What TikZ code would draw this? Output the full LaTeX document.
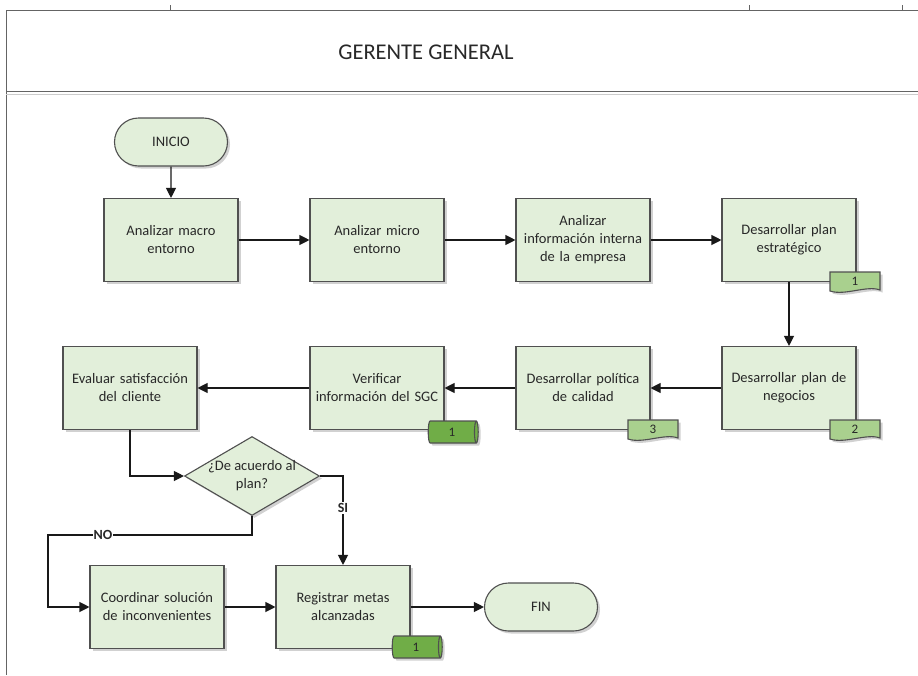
\documentclass[tikz,border=0pt]{standalone}
\usepackage{fontspec}
\setmainfont{Carlito}
\usetikzlibrary{arrows.meta,shapes.geometric,shapes.misc,shadows,calc}

\definecolor{boxfill}{RGB}{226,239,218}
\definecolor{boxline}{RGB}{80,80,80}
\definecolor{tagfill}{RGB}{169,208,142}
\definecolor{cylfill}{RGB}{112,173,71}
\definecolor{framegray}{RGB}{100,100,100}
\definecolor{ink}{RGB}{40,40,40}

\tikzset{
  x=1pt, y=-1pt,
  soft shadow/.style={drop shadow={shadow xshift=2.5pt, shadow yshift=-2.5pt, opacity=0.3, fill=black!60}},
  txt/.style={font=\fontsize{14.5}{18}\selectfont, text=ink},
  proc/.style={txt, draw=boxline, line width=1.1pt, fill=boxfill, minimum width=134pt,
    minimum height=83pt, align=center, text width=130pt, inner sep=0pt, soft shadow},
  term/.style={txt, rounded rectangle, draw=boxline, line width=1.1pt, fill=boxfill,
    minimum width=113pt, minimum height=48pt, inner sep=0pt, soft shadow},
  dec/.style={diamond, draw=boxline, line width=1.1pt, fill=boxfill,
    minimum width=135pt, minimum height=79pt, inner sep=0pt, soft shadow},
  flow/.style={draw=black!90, line width=1.1pt, -{Triangle[length=10pt,width=10pt]}},
  edgelbl/.style={font=\fontsize{14}{16}\bfseries\selectfont, text=ink, fill=white, inner sep=1pt},
  store/.style={cylinder, shape border rotate=0, aspect=0.45, draw=boxline, line width=1.1pt,
    fill=cylfill, minimum width=22pt, minimum height=50pt, inner sep=0pt,
    font=\fontsize{13}{14}\selectfont, text=ink, soft shadow},
  pics/doctag/.style={code={
    \path[draw=boxline, line width=1.1pt, fill=tagfill, soft shadow]
      (-25,-10) -- (25,-10) -- (25,8)
      .. controls (12,3) and (-10,14) .. (-25,9) -- cycle;
    \node[font=\fontsize{13}{14}\selectfont, text=ink, inner sep=0pt] (-tx) at (0,-1) {#1};
  }}
}

\begin{document}
\begin{tikzpicture}
  \useasboundingbox (0,0) rectangle (918,675);

  % frame of the lane
  \draw[framegray, line width=1pt] (6,10) -- (918,10);
  \draw[framegray, line width=0.8pt] (170,5) -- (170,10) (749,5) -- (749,10) (902,5) -- (902,10);
  \draw[framegray, line width=1pt] (6,10) -- (6,675);
  \draw[framegray, line width=1.3pt] (6,91.5) -- (918,91.5);
  \draw[black!20, line width=1pt] (6,94) -- (918,94);
  \node[font=\fontsize{22.5}{26}\selectfont, text=ink] (title) at (426,52) {GERENTE GENERAL};

  % first row
  \node[term] (inicio) at (171,142) {INICIO};
  \node[proc] (b1) at (171,240) {Analizar macro\\entorno};
  \node[proc] (b2) at (377,240) {Analizar micro\\entorno};
  \node[proc] (b3) at (583,240) {Analizar\\información interna\\de la empresa};
  \node[proc] (b4) at (789,240) {Desarrollar plan\\estratégico};

  % second row
  \node[proc] (b5) at (789,388) {Desarrollar plan de\\negocios};
  \node[proc] (b6) at (583,388) {Desarrollar política\\de calidad};
  \node[proc] (b7) at (377,388) {Verificar\\información del SGC};
  \node[proc] (b8) at (130,388) {Evaluar satisfacción\\del cliente};

  % decision
  \node[dec] (d) at (252,476) {};
  \node[txt, align=center, inner sep=0pt] (dq) at (d.center) {¿De acuerdo al\\plan?};

  % third row
  \node[proc] (b9) at (157,607) {Coordinar solución\\de inconvenientes};
  \node[proc] (b10) at (343,607) {Registrar metas\\alcanzadas};
  \node[term] (fin) at (541,607) {FIN};

  % document and storage marks
  \pic (t4) at (855,282) {doctag=1};
  \pic (t5) at (855,430) {doctag=2};
  \pic (t6) at (653,430) {doctag=3};
  \node[store] (s7) at (452,432) {1};
  \node[store] (s10) at (416,647) {1};

  % connectors
  \draw[flow] (inicio) -- (b1);
  \draw[flow] (b1) -- (b2);
  \draw[flow] (b2) -- (b3);
  \draw[flow] (b3) -- (b4);
  \draw[flow] (b4) -- (b5);
  \draw[flow] (b5) -- (b6);
  \draw[flow] (b6) -- (b7);
  \draw[flow] (b7) -- (b8);
  \draw[flow] (b8.south) |- (d.west);
  \draw[flow] (d.east) -| (b10.north) node[edgelbl, pos=0.68] {SI};
  \coordinate (nc) at (48,535);
  \draw[flow] (d.south) |- (nc) node[edgelbl, pos=0.865] {NO} -- (nc |- b9.west) -- (b9.west);
  \draw[flow] (b9) -- (b10);
  \draw[flow] (b10) -- (fin);
\end{tikzpicture}
\end{document}
